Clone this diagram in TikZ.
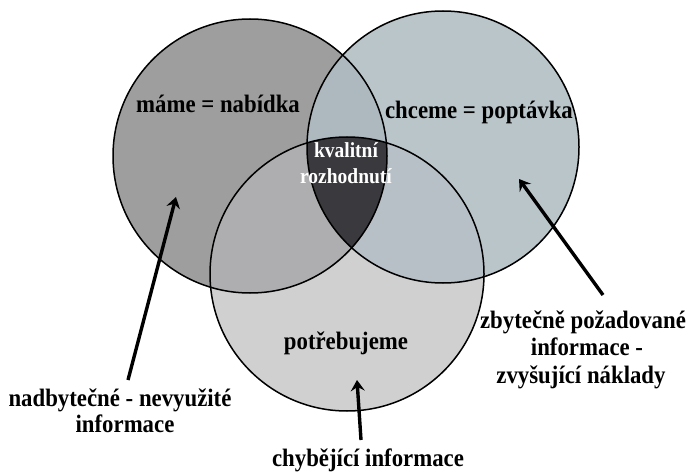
\documentclass[tikz,border=0pt]{standalone}
\usepackage{fontspec}
\setmainfont{Liberation Serif}
\usetikzlibrary{arrows.meta}
\definecolor{onlyL}{HTML}{9E9E9E}
\definecolor{onlyR}{HTML}{BAC5CA}
\definecolor{onlyB}{HTML}{D0D0D0}
\definecolor{LR}{HTML}{AEB9BF}
\definecolor{LB}{HTML}{AEAEB0}
\definecolor{RB}{HTML}{B8C0C7}
\definecolor{LRB}{HTML}{3A3A3E}
% slightly tall lettering
\newcommand{\tall}[1]{\scalebox{1}[1.1]{#1}}
\tikzset{
  ring/.style={draw=black, line width=1.5pt},
  big/.style={font=\fontsize{22.8}{26.5}\selectfont\bfseries, anchor=base, inner sep=0pt},
  small/.style={font=\fontsize{19.5}{26}\selectfont\bfseries, text=white, anchor=base, inner sep=0pt},
  pointer/.style={line width=3.4pt, -{Stealth[length=11pt,width=14pt,inset=4pt]}}
}
\begin{document}
\begin{tikzpicture}[x=1pt,y=-1pt]
\useasboundingbox (0,0) rectangle (693,473);
\fill[white] (0,0) rectangle (693,473);
% circle centres
\coordinate (cL) at (250,156);
\coordinate (cR) at (443,147);
\coordinate (cB) at (347,274);
\def\rL{137}\def\rR{136}\def\rB{137}
% single regions
\fill[onlyL] (cL) circle[radius=\rL];
\fill[onlyR] (cR) circle[radius=\rR];
\fill[onlyB] (cB) circle[radius=\rB];
% pairwise overlaps
\begin{scope}
  \clip (cL) circle[radius=\rL];
  \fill[LR] (cR) circle[radius=\rR];
  \fill[LB] (cB) circle[radius=\rB];
\end{scope}
\begin{scope}
  \clip (cR) circle[radius=\rR];
  \fill[RB] (cB) circle[radius=\rB];
\end{scope}
% common core
\begin{scope}
  \clip (cL) circle[radius=\rL];
  \clip (cR) circle[radius=\rR];
  \fill[LRB] (cB) circle[radius=\rB];
\end{scope}
% outlines
\draw[ring] (cL) circle[radius=\rL];
\draw[ring] (cR) circle[radius=\rR];
\draw[ring] (cB) circle[radius=\rB];
% labels inside
\node[big] (mame) at (218,113) {\tall{máme = nabídka}};
\node[big] (chceme) at (479,119) {\tall{chceme = poptávka}};
\node[small] (kval) at (346,158) {\tall{kvalitní}};
\node[small] (rozh) at (346,184) {\tall{rozhodnutí}};
\node[big] (potr) at (346,349) {\tall{potřebujeme}};
% labels outside
\node[big] (zbyt1) at (583,328) {\tall{zbytečně požadované}};
\node[big] (zbyt2) at (587,355) {\tall{informace -}};
\node[big] (zbyt3) at (581,383) {\tall{zvyšující náklady}};
\node[big] (nadb1) at (120,406) {\tall{nadbytečné - nevyužité}};
\node[big] (nadb2) at (125,432) {\tall{informace}};
\node[big] (chyb) at (368,466) {\tall{chybějící informace}};
% pointer ends
\coordinate (tL) at (128,380);
\coordinate (hL) at (176,197);
\coordinate (tR) at (603,295);
\coordinate (hR) at (519,179);
\coordinate (tB) at (361,440);
\coordinate (hB) at (357,380);
\draw[pointer] (tL) -- (hL);
\draw[pointer] (tR) -- (hR);
\draw[pointer] (tB) -- (hB);
\end{tikzpicture}
\end{document}
